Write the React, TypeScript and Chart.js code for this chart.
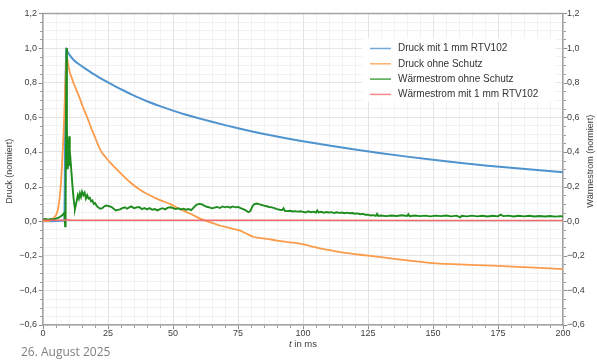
import React, { useEffect, useRef } from 'react';
import { Chart, registerables } from 'chart.js';

Chart.register(...registerables);

// ---- data (t in ms, normalised values) ----
const seriesNames = [
  'Druck mit 1 mm RTV102',
  'Druck ohne Schutz',
  'Wärmestrom ohne Schutz',
  'Wärmestrom mit 1 mm RTV102',
];
const seriesColors = ['#4f93cf', '#fa9c4b', '#1e8c1e', '#f26a6c'];

const blueData: [number, number][] = [
  [0, 0], [8.2, 0.004], [8.8, 1.0], [9.5, 0.977], [10.5, 0.955], [12, 0.928], [14, 0.905],
  [16, 0.884], [18, 0.864], [20, 0.845], [22, 0.827], [25, 0.802], [28, 0.778], [31, 0.755],
  [34, 0.733], [37, 0.712], [40, 0.693], [45, 0.665], [50, 0.639], [55, 0.615], [60, 0.594],
  [65, 0.574], [70, 0.555], [75, 0.537], [80, 0.52], [85, 0.504], [90, 0.489], [95, 0.475],
  [100, 0.462], [110, 0.437], [120, 0.414], [130, 0.393], [140, 0.373], [150, 0.355],
  [160, 0.338], [170, 0.322], [180, 0.308], [190, 0.295], [200, 0.283],
];

const orangeData: [number, number][] = [
  [0, 0], [2.5, 0.002], [3.5, 0.01], [4.5, 0.025], [5.3, 0.045], [6, 0.09], [6.8, 0.2],
  [7.3, 0.32], [7.8, 0.47], [8.2, 0.62], [8.5, 0.76], [8.8, 0.88], [9.1, 0.95], [9.5, 0.92],
  [10, 0.88], [10.4, 0.855], [11, 0.83], [11.7, 0.8], [12.5, 0.77], [14, 0.715], [15.5, 0.655],
  [17, 0.6], [18.5, 0.54], [20, 0.485], [21.5, 0.43], [22.5, 0.4], [23.5, 0.38], [24.5, 0.362],
  [25.8, 0.34], [28, 0.305], [30, 0.275], [33.5, 0.225], [37, 0.185], [41.2, 0.148], [45, 0.122],
  [48.8, 0.1], [52, 0.075], [56.5, 0.044], [60.4, 0.015], [63, 0.0], [66, -0.015], [68, -0.025],
  [72, -0.04], [75.8, -0.055], [78, -0.07], [80.8, -0.09], [83, -0.097], [86, -0.102],
  [90, -0.112], [95, -0.122], [98.8, -0.13], [103, -0.145], [109, -0.165], [115, -0.18],
  [122, -0.194], [130, -0.208], [141, -0.228], [151.4, -0.244], [160, -0.25], [173, -0.257],
  [185, -0.265], [200, -0.277],
];

const greenData: [number, number][] = [
  [0, 0.01], [1, 0.012], [2, 0.008], [3, 0.012], [4, 0.01], [5, 0.015], [6, 0.02], [7, 0.03],
  [7.8, 0.04], [8.3, 0.05], [8.5, -0.03], [8.7, 0.05], [9.0, 1.0], [9.2, 0.55], [9.5, 0.3],
  [9.8, 0.36], [10.1, 0.49], [10.3, 0.32], [10.6, 0.35], [11.0, 0.27], [11.3, 0.21],
  [11.7, 0.14], [12.0, 0.1], [12.3, 0.07], [12.6, 0.09], [13.0, 0.12], [13.4, 0.15],
  [13.8, 0.13], [14.2, 0.16], [14.6, 0.14], [15.0, 0.17], [15.5, 0.15], [16.0, 0.165],
  [16.5, 0.13], [17.0, 0.15], [17.5, 0.13], [18.0, 0.135], [18.5, 0.115], [19, 0.12],
  [19.5, 0.1], [20, 0.105], [20.6, 0.09], [21.2, 0.08], [22, 0.072], [22.8, 0.075],
  [23.5, 0.085], [24.3, 0.09], [25, 0.088], [25.8, 0.085], [26.5, 0.08], [27.3, 0.07],
  [28, 0.062], [28.8, 0.065], [29.6, 0.068], [30.5, 0.075], [31.5, 0.08], [32.3, 0.072],
  [33, 0.078], [34, 0.085], [35, 0.075], [36, 0.08], [37, 0.082], [38, 0.07], [39, 0.076],
  [40, 0.068], [41, 0.075], [42, 0.066], [43, 0.07], [44, 0.062], [45, 0.07], [46, 0.075],
  [47, 0.068], [48, 0.078], [49, 0.08], [50, 0.076], [51, 0.07], [52, 0.074], [53, 0.068],
  [54, 0.072], [55, 0.066], [56, 0.07], [57, 0.064], [58, 0.08], [59, 0.095], [60, 0.1],
  [61, 0.098], [62, 0.09], [63, 0.083], [64, 0.08], [65, 0.074], [66, 0.078], [67, 0.082],
  [68, 0.076], [69, 0.085], [70, 0.08], [71, 0.084], [72, 0.078], [73, 0.085], [74, 0.08],
  [75, 0.082], [76, 0.075], [77, 0.07], [78, 0.062], [79, 0.052], [79.8, 0.06], [80.5, 0.085],
  [81.3, 0.098], [82.2, 0.102], [83, 0.098], [84, 0.094], [85, 0.09], [86, 0.086], [87, 0.082],
  [88, 0.08], [89, 0.075], [90, 0.07], [91, 0.066], [92, 0.064], [92.5, 0.074], [93, 0.06],
  [94, 0.058], [95, 0.06], [96, 0.056], [97, 0.058], [98, 0.055], [99, 0.057], [100, 0.054],
  [101, 0.05], [102, 0.057], [103, 0.052], [104, 0.055], [105, 0.05], [105.5, 0.062],
  [106, 0.05], [107, 0.054], [108, 0.049], [109, 0.053], [110, 0.05], [111, 0.052],
  [112, 0.047], [113, 0.051], [114, 0.048], [115, 0.05], [116, 0.046], [117, 0.049],
  [118, 0.046], [119, 0.047], [120, 0.043], [121, 0.045], [122, 0.04], [123, 0.042],
  [124, 0.037], [125, 0.038], [126, 0.033], [127, 0.035], [128, 0.03], [128.5, 0.042],
  [129, 0.03], [130, 0.033], [132, 0.029], [134, 0.033], [136, 0.03], [138, 0.034],
  [140, 0.03], [140.5, 0.04], [141, 0.029], [143, 0.033], [145, 0.029], [147, 0.032],
  [149, 0.028], [151, 0.032], [153, 0.029], [155, 0.033], [157, 0.028], [159, 0.032],
  [160.5, 0.022], [161, 0.031], [163, 0.028], [165, 0.032], [167, 0.028], [169, 0.031],
  [171, 0.027], [173, 0.031], [175, 0.028], [176, 0.038], [177, 0.029], [179, 0.032],
  [181, 0.027], [183, 0.031], [185, 0.028], [187, 0.031], [189, 0.027], [191, 0.03],
  [193, 0.027], [195, 0.03], [197, 0.026], [199, 0.029], [200, 0.027],
];

const redData: [number, number][] = [
  [0, 0.005], [8.5, 0.005], [9, 0.01], [10, 0.006], [50, 0.005], [100, 0.005], [150, 0.004], [200, 0.004],
];

const xMin = 0;
const xMax = 200;
const xMinorStep = 5;
const xMajorStep = 25;
const yMin = -0.6;
const yMax = 1.2;
const yMinorStep = 0.05;
const yMajorStep = 0.2;

const leftTitle = 'Druck (normiert)';
const rightTitle = 'Wärmestrom (normiert)';
const xTitleItalic = 't';
const xTitleRest = ' in ms';
const dateText = '26. August 2025';

const FONT = '"Liberation Sans", Arial, sans-serif';
const TEXT = '#404040';
const AXIS = '#a3a3a3';
const GRID_MAJOR = '#dddddd';
const GRID_MINOR = '#efefef';

const fmt = (v: number) => {
  const r = Math.round(v * 10) / 10;
  const s = Math.abs(r).toFixed(1).replace('.', ',');
  return r < 0 ? '\u2212' + s : s;
};
const isYMajor = (v: number) => Math.round(v * 100) % Math.round(yMajorStep * 100) === 0;
const isXMajor = (v: number) => Math.round(v) % xMajorStep === 0;

const toPts = (d: [number, number][]) => d.map(([x, y]) => ({ x, y }));

const decorPlugin = {
  id: 'decor',
  afterDraw(chart: any) {
    const { ctx, chartArea, scales } = chart;
    const { left, right, top, bottom } = chartArea;
    const xs = scales.x;
    const ys = scales.y;
    ctx.save();
    // top border
    ctx.strokeStyle = AXIS;
    ctx.lineWidth = 1.5;
    ctx.beginPath();
    ctx.moveTo(left - 0.75, top);
    ctx.lineTo(right + 0.75, top);
    ctx.stroke();
    // tick marks
    ctx.lineWidth = 1;
    ctx.strokeStyle = '#8c8c8c';
    for (let t = xMin; t <= xMax; t += xMinorStep) {
      const px = Math.round(xs.getPixelForValue(t)) + 0.5;
      const len = isXMajor(t) ? 3.5 : 2;
      ctx.beginPath();
      ctx.moveTo(px, bottom + 0.75);
      ctx.lineTo(px, bottom + 0.75 + len);
      ctx.stroke();
    }
    for (let i = 0; i <= Math.round((yMax - yMin) / yMinorStep); i++) {
      const v = yMin + i * yMinorStep;
      const py = Math.round(ys.getPixelForValue(v)) + 0.5;
      const len = isYMajor(v) ? 3.5 : 2;
      ctx.beginPath();
      ctx.moveTo(left - 0.75, py);
      ctx.lineTo(left - 0.75 - len, py);
      ctx.moveTo(right + 0.75, py);
      ctx.lineTo(right + 0.75 + len, py);
      ctx.stroke();
    }
    // axis titles
    ctx.fillStyle = TEXT;
    ctx.font = `9px ${FONT}`;
    ctx.textAlign = 'center';
    ctx.textBaseline = 'middle';
    const midY = (top + bottom) / 2;
    ctx.save();
    ctx.translate(10, midY + 2);
    ctx.rotate(-Math.PI / 2);
    ctx.fillText(leftTitle, 0, 0);
    ctx.restore();
    ctx.save();
    ctx.translate(591, midY - 8);
    ctx.rotate(-Math.PI / 2);
    ctx.fillText(rightTitle, 0, 0);
    ctx.restore();
    // x title with italic t
    ctx.textAlign = 'left';
    ctx.font = `italic 9.5px ${FONT}`;
    const w1 = ctx.measureText(xTitleItalic).width;
    ctx.font = `9.5px ${FONT}`;
    const w2 = ctx.measureText(xTitleRest).width;
    const startX = (left + right) / 2 - (w1 + w2) / 2;
    const ty = 344;
    ctx.font = `italic 9.5px ${FONT}`;
    ctx.fillText(xTitleItalic, startX, ty);
    ctx.font = `9.5px ${FONT}`;
    ctx.fillText(xTitleRest, startX + w1, ty);
    // legend
    const lx = 362;
    const ly = 38;
    ctx.fillStyle = 'rgba(255,255,255,0.92)';
    ctx.fillRect(lx, ly, 194, 64);
    ctx.font = `10px ${FONT}`;
    ctx.textBaseline = 'middle';
    seriesNames.forEach((name, i) => {
      const yy = 48.5 + i * 15.3;
      ctx.strokeStyle = seriesColors[i];
      ctx.globalAlpha = 0.8;
      ctx.lineWidth = 1.5;
      ctx.beginPath();
      ctx.moveTo(370, yy);
      ctx.lineTo(391, yy);
      ctx.stroke();
      ctx.globalAlpha = 1;
      ctx.fillStyle = '#333333';
      ctx.fillText(name, 398, yy);
    });
    ctx.restore();
  },
};

export default function App() {
  const ref = useRef<HTMLCanvasElement>(null);
  useEffect(() => {
    if (!ref.current) return;
    const mk = (i: number, data: [number, number][], width: number, order: number, axis: string, smooth: boolean) => ({
      label: seriesNames[i],
      data: toPts(data),
      borderColor: seriesColors[i],
      backgroundColor: seriesColors[i],
      borderWidth: width,
      pointRadius: 0,
      cubicInterpolationMode: smooth ? 'monotone' : 'default',
      tension: smooth ? 0.4 : 0,
      fill: false,
      order,
      yAxisID: axis,
    });
    const chart = new Chart(ref.current, {
      type: 'line',
      data: {
        datasets: [
          mk(0, blueData, 2, 4, 'y', true),
          mk(1, orangeData, 1.8, 3, 'y', true),
          mk(2, greenData, 1.9, 2, 'y2', false),
          mk(3, redData, 1.6, 1, 'y2', false),
        ],
      },
      options: {
        responsive: false,
        animation: false,
        layout: { padding: { top: 13.5, left: 0, right: 0, bottom: 0 } },
        plugins: { legend: { display: false }, tooltip: { enabled: false } },
        scales: {
          x: {
            type: 'linear',
            min: xMin,
            max: xMax,
            ticks: {
              stepSize: xMinorStep,
              autoSkip: false,
              maxRotation: 0,
              padding: 0,
              color: TEXT,
              font: { family: FONT, size: 9 },
              callback: (v: any) => (isXMajor(Number(v)) ? String(v) : ''),
            },
            grid: {
              color: (c: any) => (c.tick && isXMajor(c.tick.value) ? GRID_MAJOR : GRID_MINOR),
              lineWidth: 0.8,
              tickLength: 3,
              tickColor: 'rgba(0,0,0,0)',
            },
            border: { color: AXIS, width: 1.5 },
            afterFit: (s: any) => { s.height = 37; },
          },
          y: {
            position: 'left',
            min: yMin,
            max: yMax,
            ticks: {
              stepSize: yMinorStep,
              autoSkip: false,
              padding: 2,
              color: TEXT,
              font: { family: FONT, size: 9 },
              callback: (v: any) => (isYMajor(Number(v)) ? fmt(Number(v)) : ''),
            },
            grid: {
              color: (c: any) => (c.tick && isYMajor(c.tick.value) ? GRID_MAJOR : GRID_MINOR),
              lineWidth: 0.8,
              tickLength: 4,
              tickColor: 'rgba(0,0,0,0)',
            },
            border: { color: AXIS, width: 1.5 },
            afterFit: (s: any) => { s.width = 43; },
          },
          y2: {
            position: 'right',
            min: yMin,
            max: yMax,
            ticks: {
              stepSize: yMinorStep,
              autoSkip: false,
              padding: 1,
              color: TEXT,
              font: { family: FONT, size: 9 },
              callback: (v: any) => (isYMajor(Number(v)) ? fmt(Number(v)) : ''),
            },
            grid: { drawOnChartArea: false, tickLength: 3, tickColor: 'rgba(0,0,0,0)' },
            border: { color: AXIS, width: 1.5 },
            afterFit: (s: any) => { s.width = 34; },
          },
        },
      },
      plugins: [decorPlugin],
    } as any);
    return () => chart.destroy();
  }, []);

  return (
    <div style={{ position: 'fixed', left: 0, top: 0, width: 597, height: 362, background: '#fff', overflow: 'hidden' }}>
      <canvas ref={ref} width={597} height={362} style={{ display: 'block' }} />
      <div
        style={{
          position: 'absolute',
          left: 21,
          top: 344,
          fontFamily: '"Open Sans", "Noto Sans", sans-serif',
          fontSize: 12,
          lineHeight: '16px',
          color: '#7f7f7f',
          whiteSpace: 'nowrap',
        }}
      >
        {dateText}
      </div>
    </div>
  );
}
